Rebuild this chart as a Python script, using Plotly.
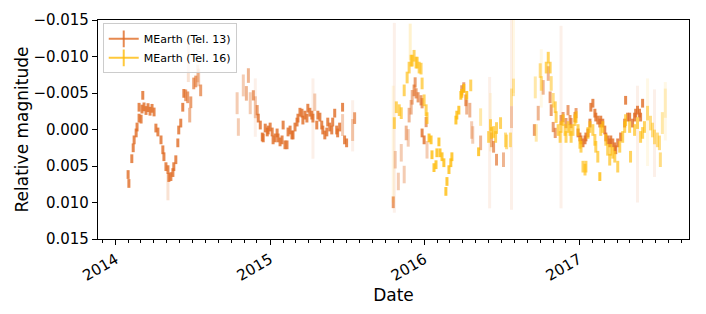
import numpy as np
import pandas as pd
import plotly.graph_objects as go

# time in years since 2014-01-01, relative magnitude and error in mmag
t13_yr = [0.080, 0.085, 0.104, 0.113, 0.119, 0.132, 0.138, 0.151, 0.164, 0.151, 0.175, 0.170, 0.183, 0.196,
          0.209, 0.222, 0.235, 0.248, 0.260, 0.273, 0.293, 0.305, 0.312, 0.325, 0.338, 0.338, 0.344, 0.357,
          0.370, 0.376, 0.389, 0.402, 0.408, 0.421, 0.434, 0.441, 0.453, 0.466, 0.470, 0.479, 0.486, 0.505,
          0.518, 0.531, 0.537, 0.550,
          0.786, 0.794, 0.826, 0.846, 0.859, 0.871, 0.891, 0.904, 0.904, 0.916, 0.923, 0.936, 0.949, 0.955,
          0.968, 0.981, 0.987, 1.000, 1.013, 1.019, 1.032, 1.045, 1.051, 1.064, 1.077, 1.084, 1.096, 1.109,
          1.116, 1.129, 1.141, 1.148, 1.161, 1.174, 1.180, 1.193, 1.206, 1.212, 1.225, 1.238, 1.244, 1.257,
          1.270, 1.277, 1.277, 1.289, 1.302, 1.309, 1.322, 1.334, 1.341, 1.354, 1.367, 1.373, 1.386, 1.399,
          1.405, 1.418, 1.431, 1.437, 1.450, 1.469, 1.469, 1.482, 1.495, 1.534, 1.534, 1.547,
          1.797, 1.804, 1.810, 1.830, 1.849, 1.868, 1.881, 1.894, 1.900, 1.913, 1.920, 1.932, 1.939, 1.945,
          1.958, 1.977, 1.984, 2.010, 1.984, 1.997, 2.016, 2.241, 2.254, 2.267, 2.273, 2.293, 2.305, 2.312,
          2.363, 2.421, 2.434, 2.447, 2.466, 2.511, 2.563, 2.563,
          2.711, 2.736, 2.768, 2.801, 2.813, 2.820, 2.833, 2.846, 2.884, 2.884, 2.897, 2.916, 2.929, 2.942,
          2.949, 2.974, 2.981, 2.994, 3.006, 3.013, 3.026, 3.039, 3.045, 3.058, 3.071, 3.077, 3.090, 3.103,
          3.109, 3.122, 3.135, 3.141, 3.154, 3.167, 3.174, 3.186, 3.199, 3.206, 3.219, 3.232, 3.238, 3.251,
          3.270, 3.296, 3.302, 3.315, 3.328, 3.347, 3.360, 3.367, 3.379, 3.379, 3.392, 3.399, 3.412, 3.489]
t13_mag = [6.17, 7.39, 4.00, 2.51, 1.42, 0.47, -0.34, -1.56, -1.42, -3.05, -4.68, -2.80, -3.10, -2.60,
           -3.00, -2.50, -2.90, -2.40, -0.20, 0.34, 1.42, 2.78, 3.73, 5.09, 5.50, 7.90, 6.58, 6.45,
           5.90, 5.09, 4.14, 1.83, 0.07, -0.88, -3.05, -4.95, -4.68, -4.41, -9.50, -1.97, -3.73, -6.31,
           -6.58, -7.67, -7.12, -5.36,
           -3.60, -0.34, -6.04, -4.95, -7.39, -3.60, -4.68, -3.05, -3.00, -2.65, -1.56, -0.61, 1.02, 1.15,
           -0.20, 0.34, 0.07, -0.34, 0.34, 1.42, 1.15, 0.47, 1.15, 1.70, 1.42, -0.61, 2.10, 2.10,
           0.34, 0.07, 0.75, 0.75, -0.34, -1.02, -1.56, -2.37, -2.24, -1.29, -1.97, -1.56, -2.92, -2.37,
           -1.97, -1.56, -1.50, -3.73, -0.61, -1.97, -1.70, -0.61, 0.07, 0.75, 0.34, -1.02, -0.34, 0.07,
           -1.02, -2.24, 0.07, 0.47, -0.34, -3.05, -0.61, 1.42, 1.83, 0.07, -0.50, -1.56,
           9.97, -1.60, 4.14, 7.12, 3.19, 6.17, 0.47, 1.15, -1.97, -3.05, -4.41, -5.36, -6.45, -4.95,
           -4.41, -4.00, -3.60, -1.02, 0.47, 1.42, 2.78, -5.36, -5.77, -4.00, -3.05, -2.65, 0.07, 0.75,
           1.83, 1.80, 1.42, 2.37, 4.14, 4.14, -1.70, -2.00,
           0.07, -2.24, -5.77, -7.67, -4.41, -2.65, -0.34, 0.47, -1.29, -1.70, -1.70, -0.88, -2.65, -1.29,
           -0.88, -1.70, -2.24, 0.47, 1.02, 1.42, 1.83, 1.42, 1.02, 0.47, -0.88, -3.05, -3.60, -2.24,
           -1.70, -1.29, -0.88, -1.29, -0.88, 0.07, 1.02, 1.42, 1.83, 1.42, 1.83, 2.37, 2.78, 1.83,
           1.02, -0.88, -4.00, -1.70, -1.70, -0.88, -1.70, -2.24, -2.65, 2.00, -2.24, -1.70, -3.60, 0.50]
t13_err = [0.6, 0.6, 0.6, 0.6, 0.6, 0.6, 0.6, 0.6, 0.6, 0.6, 0.6, 0.6, 0.6, 0.6,
           0.6, 0.6, 0.6, 0.6, 0.6, 0.6, 0.6, 0.6, 0.6, 0.6, 0.6, 1.8, 0.6, 0.6,
           0.6, 0.6, 0.6, 0.6, 0.6, 0.6, 0.6, 0.6, 0.8, 0.8, 3.0, 1.0, 0.8, 0.8,
           0.8, 1.2, 1.2, 0.8,
           1.5, 1.2, 1.5, 1.0, 1.0, 1.5, 0.7, 1.5, 4.0, 0.7, 0.6, 0.6, 0.6, 0.6,
           0.6, 0.6, 0.6, 0.6, 0.6, 0.6, 0.6, 0.6, 0.6, 0.6, 0.6, 0.6, 0.6, 0.6,
           0.6, 0.6, 0.6, 0.6, 0.6, 0.6, 0.6, 0.6, 0.6, 0.6, 0.6, 0.6, 0.6, 0.6,
           0.6, 0.6, 5.5, 1.2, 0.6, 0.6, 0.6, 0.6, 0.6, 0.6, 0.6, 0.6, 0.6, 0.6,
           0.6, 0.6, 0.6, 0.6, 0.6, 0.6, 1.5, 0.6, 0.6, 1.5, 3.5, 0.8,
           0.8, 13.0, 1.2, 1.2, 1.2, 1.2, 1.0, 1.2, 1.0, 1.0, 1.0, 0.8, 0.7, 0.7,
           0.7, 0.7, 0.7, 0.7, 0.6, 0.6, 1.2, 0.7, 0.7, 0.8, 1.0, 1.0, 1.2, 1.2,
           1.0, 9.0, 1.0, 0.8, 0.8, 1.0, 1.5, 13.0,
           0.8, 1.0, 1.0, 1.0, 0.8, 0.8, 0.7, 0.7, 0.7, 12.5, 0.7, 0.7, 0.7, 0.7,
           0.7, 0.7, 0.7, 0.6, 0.6, 0.6, 0.6, 0.6, 0.6, 0.6, 0.6, 0.6, 0.6, 0.6,
           0.6, 0.6, 0.6, 0.6, 0.6, 0.6, 0.6, 0.6, 0.6, 0.6, 0.6, 0.6, 0.6, 0.6,
           0.6, 0.6, 0.6, 0.6, 0.6, 0.6, 0.6, 0.6, 0.6, 8.0, 0.6, 0.6, 0.6, 6.0]

t16_yr = [1.797, 1.804, 1.817, 1.836, 1.849, 1.868, 1.887, 1.900, 1.913, 1.920, 1.932, 1.945, 1.952, 1.965,
          1.977, 1.984, 1.997, 2.010, 2.016, 1.907, 2.029, 2.042, 2.048, 2.061, 2.074, 2.080, 2.093, 2.100,
          2.113, 2.125, 2.138, 2.145, 2.158, 2.170, 2.177, 2.203, 2.209, 2.222, 2.235, 2.241, 2.254, 2.273,
          2.299, 2.350, 2.363, 2.415, 2.427, 2.427, 2.434, 2.447, 2.460, 2.466, 2.492, 2.524, 2.531, 2.556,
          2.563, 2.576, 2.576,
          2.717, 2.723, 2.749, 2.756, 2.756, 2.788, 2.801, 2.813, 2.820, 2.833, 2.846, 2.852, 2.865, 2.878,
          2.884, 2.897, 2.910, 2.916, 2.929, 2.942, 2.949, 2.961, 2.974, 2.981, 2.994, 3.006, 3.013, 3.026,
          3.039, 3.045, 3.058, 3.071, 3.090, 3.103, 3.109, 3.122, 3.135, 3.141, 3.154, 3.174, 3.186, 3.199,
          3.206, 3.219, 3.232, 3.251, 3.264, 3.283, 3.296, 3.302, 3.328, 3.334, 3.360, 3.379, 3.399, 3.412,
          3.424, 3.444, 3.444, 3.463, 3.476, 3.489, 3.508, 3.521, 3.527, 3.540, 3.559, 3.559]
t16_mag = [2.00, -0.88, -3.05, -2.65, -2.24, -5.36, -7.12, -8.48, -9.43, -9.43, -10.10, -9.16, -9.16, -8.48,
           -8.34, -6.31, -4.00, -2.65, -1.56, -12.00, 1.15, 1.42, 3.46, 5.22, 4.82, 3.19, 1.70, 3.19,
           3.73, 4.55, 8.48, 7.12, 5.50, 4.55, 3.73, -1.29, -1.97, -2.65, -4.68, -4.95, -5.63, -4.68,
           -6.04, 3.05, -1.70, 1.02, -0.61, -1.00, 0.47, 0.34, 1.02, -0.20, -0.88, 1.42, 1.70, 1.42,
           -4.41, -5.77, -10.00,
           -5.77, 0.47, -8.07, -6.31, -7.00, -8.48, -9.84, -8.48, -6.31, -4.00, -3.05, -1.70, 0.07, 1.02,
           -0.34, -1.29, 0.07, 1.02, -0.34, 0.07, 1.02, 0.07, -1.29, -1.70, 0.07, 1.83, 2.37, 5.09,
           5.50, 5.09, 0.47, -0.34, 0.07, 1.42, 2.37, 3.73, 6.45, 0.07, -0.34, 1.42, 2.78, 4.14,
           2.78, 3.19, 3.73, 5.09, 2.37, 1.02, -0.34, -1.29, -0.34, 3.73, 0.07, -0.88, 1.02, 0.47,
           -0.34, -2.24, -1.00, -0.88, 0.07, 1.02, 1.42, 1.83, 4.14, -0.88, -3.60, -2.50]
t16_err = [8.0, 0.8, 0.8, 0.8, 0.8, 0.8, 0.8, 0.8, 0.8, 0.8, 0.8, 0.8, 0.8, 0.8,
           0.8, 0.8, 0.8, 0.8, 0.8, 2.5, 0.6, 0.6, 0.6, 0.6, 0.6, 0.6, 0.6, 0.6,
           0.6, 0.6, 0.6, 0.6, 0.6, 0.6, 0.6, 0.6, 0.6, 0.6, 0.6, 0.6, 0.6, 0.6,
           0.8, 0.6, 1.2, 0.8, 0.8, 4.0, 0.8, 0.8, 0.8, 0.8, 0.8, 1.0, 1.0, 1.0,
           1.2, 1.2, 5.0,
           1.5, 1.2, 1.0, 1.0, 4.0, 0.8, 0.8, 0.8, 1.0, 1.0, 0.8, 0.8, 0.8, 0.8,
           0.8, 0.8, 0.8, 0.8, 0.8, 0.8, 0.8, 0.8, 0.8, 0.8, 0.8, 0.8, 0.8, 0.8,
           0.8, 0.8, 0.8, 0.8, 0.8, 0.8, 0.8, 0.8, 0.6, 0.8, 0.8, 0.8, 0.8, 0.8,
           0.8, 0.8, 0.8, 0.8, 0.8, 0.8, 0.8, 0.8, 0.8, 0.8, 0.8, 0.8, 0.8, 0.8,
           0.8, 1.0, 6.0, 1.0, 1.0, 1.0, 1.0, 1.0, 1.0, 1.5, 2.0, 4.0]

year_ticks = ["2014", "2015", "2016", "2017"]

start = pd.Timestamp("2014-01-01")


def to_dates(yrs):
    return start + pd.to_timedelta(np.array(yrs) * 365.25, unit="D")


def alpha_for(err):
    # bigger error bars are drawn fainter
    if err <= 0.6:
        return 0.8
    if err <= 0.8:
        return 0.65
    if err <= 1.0:
        return 0.5
    if err <= 1.5:
        return 0.35
    if err <= 3.0:
        return 0.2
    return 0.1


fig = go.Figure()

series = [("MEarth (Tel. 13)", t13_yr, t13_mag, t13_err, (224, 108, 36)),
          ("MEarth (Tel. 16)", t16_yr, t16_mag, t16_err, (255, 188, 10))]

for name, yrs, mag, err, rgb in series:
    dates = to_dates(yrs)
    mag = np.array(mag) / 1000.0
    err = np.array(err) / 1000.0
    alphas = np.array([alpha_for(e * 1000) for e in err])
    for a in sorted(set(alphas)):
        sel = alphas == a
        fig.add_trace(go.Scatter(
            x=dates[sel], y=mag[sel], mode="markers",
            marker=dict(size=1, opacity=0),
            error_y=dict(type="data", array=err[sel], visible=True, thickness=3, width=0,
                         color="rgba(%d,%d,%d,%.2f)" % (rgb + (a,))),
            showlegend=False, hoverinfo="skip"))
    fig.add_trace(go.Scatter(
        x=[None], y=[None], name=name, mode="lines+markers",
        line=dict(color="rgba(%d,%d,%d,0.8)" % rgb, width=2),
        marker=dict(symbol="line-ns-open", size=12, line=dict(width=2, color="rgba(%d,%d,%d,0.8)" % rgb))))

fig.update_layout(
    width=706, height=314,
    margin=dict(l=98, r=17, t=20, b=75),
    plot_bgcolor="white", paper_bgcolor="white",
    font=dict(family="DejaVu Sans", size=15, color="black"),
    legend=dict(x=0.008, y=0.985, xanchor="left", yanchor="top",
                bgcolor="rgba(255,255,255,0.8)", bordercolor="#cccccc", borderwidth=1,
                font=dict(size=11), tracegroupgap=0, itemwidth=30),
)

fig.update_xaxes(
    range=["2013-11-20", "2017-09-18"], automargin=False,
    tickvals=[pd.Timestamp(y + "-01-01") for y in year_ticks], ticktext=year_ticks,
    tickangle=-30, ticks="outside", ticklen=5, tickwidth=1, tickcolor="black",
    minor=dict(dtick="M1", tick0="2014-01-01", ticks="outside", ticklen=3, tickcolor="black"),
    showline=True, linecolor="black", linewidth=1.2, mirror=True, showgrid=False, zeroline=False,
    title=dict(text="Date", font=dict(size=17), standoff=0),
)
fig.update_yaxes(
    range=[0.015, -0.015], dtick=0.005, tickformat=".3f", automargin=False,
    ticks="outside", ticklen=5, tickwidth=1, tickcolor="black",
    showline=True, linecolor="black", linewidth=1.2, mirror=True, showgrid=False, zeroline=False,
    title=dict(text="Relative magnitude", font=dict(size=17), standoff=0),
)

fig.write_html("out.html", config={"displayModeBar": False},
               post_script="document.body.style.margin='0';")
